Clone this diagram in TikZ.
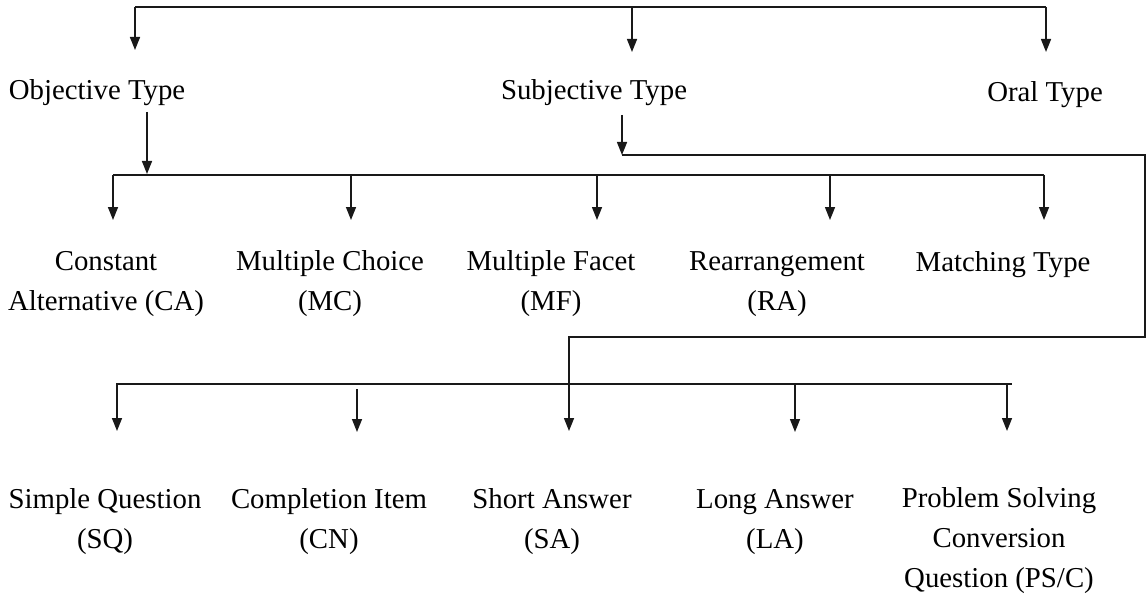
\documentclass[tikz,border=0pt]{standalone}
\usepackage{fontspec}
\setmainfont{Liberation Serif}
\usetikzlibrary{arrows.meta}

\begin{document}
\begin{tikzpicture}[x=0.5bp, y=-0.5bp, font=\fontsize{14.4bp}{20bp}\selectfont,
    >={Triangle[length=6.5bp, width=5bp]},
    kind/.style={inner sep=0pt, align=center, anchor=base},
    wire/.style={line width=0.75bp, draw=black!90},
    drop/.style={->, line width=0.75bp, draw=black!90}]

    \useasboundingbox (0,0) rectangle (1147,596);

    \node (obj)  [kind] at (97,100)   {Objective Type};
    \node (subj) [kind] at (594,100)  {Subjective Type};
    \node (oral) [kind] at (1045,102) {Oral Type};

    \node (ca) [kind] at (106,310)  {Constant\\ Alternative (CA)};
    \node (mc) [kind] at (330,310)  {Multiple Choice\\ (MC)};
    \node (mf) [kind] at (551,310)  {Multiple Facet\\ (MF)};
    \node (ra) [kind] at (777,310)  {Rearrangement\\ (RA)};
    \node (mt) [kind] at (1003,271) {Matching Type};

    \node (sq) [kind] at (105,548)  {Simple Question\\ (SQ)};
    \node (cn) [kind] at (329,548)  {Completion Item\\ (CN)};
    \node (sa) [kind] at (552,548)  {Short Answer\\ (SA)};
    \node (la) [kind] at (775,548)  {Long Answer\\ (LA)};
    \node (ps) [kind] at (999,587)  {Problem Solving\\ Conversion\\ Question (PS/C)};

    % sabirnice
    \coordinate (topL) at (135,7);   \coordinate (topM) at (632,7);   \coordinate (topR) at (1046,7);
    \coordinate (midL) at (113,175); \coordinate (midR) at (1044,175);
    \coordinate (lowL) at (116,384); \coordinate (lowR) at (1012,384);

    \draw [wire] (topL) -- (topR);
    \draw [drop] (topL) -- (topL |- 0,50);
    \draw [drop] (topM) -- (topM |- 0,52);
    \draw [drop] (topR) -- (topR |- 0,52);

    % objektivni tip
    \coordinate (objOut) at (147,112);
    \draw [drop] (objOut) -- (objOut |- 0,174);
    \draw [wire] (midL) -- (midR);
    \draw [drop] (midL) -- (113,220);
    \draw [drop] (351,175) -- (351,220);
    \draw [drop] (597,175) -- (597,220);
    \draw [drop] (830,175) -- (830,220);
    \draw [drop] (midR) -- (1044,220);

    % subjektivni tip
    \coordinate (subOut) at (622,115);
    \coordinate (subIn) at (622,155);
    \coordinate (lowIn) at (569,384);
    \draw [drop] (subOut) -- (subIn);
    \draw [wire] (subIn) -- (1145,155) -- (1145,337) -- (569,337) -- (lowIn);
    \draw [wire] (lowL) -- (lowR);
    \draw [drop] (117,384) -- (117,431);
    \draw [drop] (357,389) -- (357,432);
    \draw [drop] (lowIn) -- (569,431);
    \draw [drop] (795,384) -- (795,432);
    \draw [drop] (1007,384) -- (1007,431);
\end{tikzpicture}
\end{document}
